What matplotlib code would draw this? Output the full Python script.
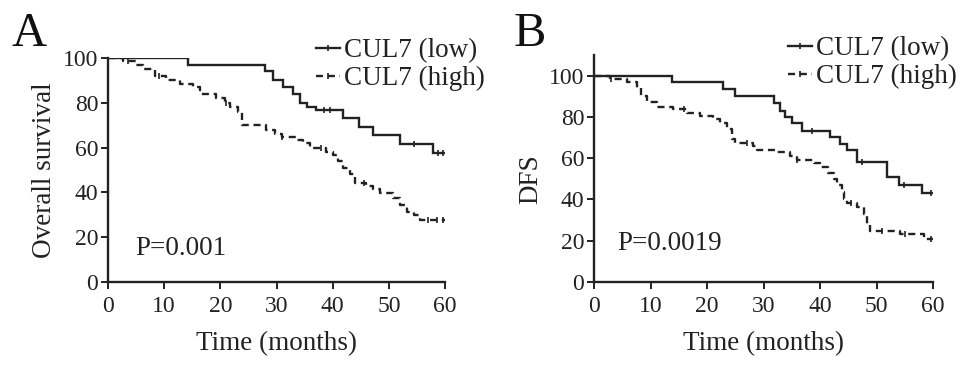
import numpy as np
import matplotlib
matplotlib.use("Agg")
import matplotlib.pyplot as plt
from matplotlib.lines import Line2D

plt.rcParams['font.family'] = ['Liberation Serif', 'DejaVu Serif']

# ---- data ----
a_low_t = [0, 14.3, 27.9, 29.4, 31.2, 33, 34.2, 35.4, 37.1, 41.9, 44.6, 47.2, 52, 57.9, 60]
a_low_s = [100, 97, 94, 90.3, 87, 84, 80, 78, 76.9, 73.1, 69.4, 65.7, 61.6, 57.8, 57.8]
a_low_cens = [38.5, 39.5, 54.5, 58.8, 59.6]

a_high_t = [0, 2.7, 5, 6.2, 8.3, 10.4, 12.8, 15.2, 16.3, 19.3, 20.8, 21.7, 23.2, 23.8, 28.2, 29.7,
            30.9, 33.6, 34.8, 35.9, 38.9, 40.1, 41.0, 41.9, 43.1, 44, 46, 47.2, 48.4, 50.8, 52,
            53.2, 54.4, 55.6, 60]
a_high_s = [100, 98.5, 97, 95, 92, 90, 88.5, 87, 84, 82, 80, 78, 76, 70, 68, 66, 64.7, 63.5, 62,
            59.7, 58.2, 56.7, 54.2, 51, 48, 44.3, 43, 41.5, 39.6, 37.3, 34.3, 31.3, 29.9, 27.6, 27.6]
a_high_cens = [3.5, 9, 21, 31, 38, 45.5, 57, 58.5, 59.6]

b_low_t = [0, 13.8, 22.9, 25, 31.8, 33, 33.8, 35, 36.8, 41.8, 43.6, 44.8, 46.6, 51.9, 53.9, 58.1, 60]
b_low_s = [100, 96.8, 93.5, 90, 86.7, 83, 80, 77, 73.4, 70.2, 67, 64, 58.3, 51, 47, 43, 43]
b_low_cens = [38.5, 47.5, 54.8, 59.6]

b_high_t = [0, 2.8, 5.8, 7.6, 8.4, 9.3, 11.1, 14, 16.4, 18.8, 21.1, 22.3, 23.5, 24.4, 25, 28.2,
            28.8, 32.4, 34.7, 35.9, 38.9, 40, 41.5, 42.4, 43, 43.9, 44.2, 44.8, 46.6, 47.7, 48.3,
            48.9, 54.2, 58.4, 60]
b_high_s = [100, 98.5, 97, 94, 90, 87, 85, 84, 82, 80.5, 79, 77, 74, 69.5, 67.5, 66, 64, 63.2,
            61, 59, 57.5, 55.7, 53, 50, 47, 43.6, 40, 38.4, 36.5, 33, 28, 24.5, 23.5, 21, 21]
b_high_cens = [3, 16, 27, 36, 45.5, 51, 55, 59.6]

legend_labels = ["CUL7 (low)", "CUL7 (high)"]
xticks = [0, 10, 20, 30, 40, 50, 60]
yticks = [0, 20, 40, 60, 80, 100]

fig = plt.figure(figsize=(9.69, 3.71), dpi=100)
W, H = 969, 371

def ax_px(x0, x1, ytop, ybot):
    return fig.add_axes([x0 / W, (H - ybot) / H, (x1 - x0) / W, (ybot - ytop) / H])

axA = ax_px(108, 445, 58, 282)
axB = ax_px(594, 933, 55, 282)

DASH = (0, (3.0, 2.0))
INK = '#222222'

def step_val(t, s, x):
    t = np.asarray(t); s = np.asarray(s)
    i = np.searchsorted(t, x, side='right') - 1
    return s[i]

def draw(ax, lt, ls, lc, ht, hs, hc, ymax, ylabel, ptext, pxy, letter, letter_x, leg_xy):
    ax.step(lt, ls, where='post', color=INK, lw=1.7, solid_joinstyle='miter')
    ax.step(ht, hs, where='post', color=INK, lw=1.7, linestyle=DASH)
    ax.plot(lc, step_val(lt, ls, lc), linestyle='none', marker='|', ms=5, mew=1.2, color=INK)
    ax.plot(hc, step_val(ht, hs, hc), linestyle='none', marker='|', ms=5, mew=1.2, color=INK)
    ax.set_xlim(0, 60)
    ax.set_ylim(0, ymax)
    ax.set_xticks(xticks)
    ax.set_yticks(yticks)
    ax.tick_params(direction='out', length=5, width=1.4, labelsize=17, color=INK,
                   labelcolor=INK)
    ax.tick_params(axis='x', pad=5)
    ax.tick_params(axis='y', pad=2)
    for side in ['top', 'right']:
        ax.spines[side].set_visible(False)
    for side in ['left', 'bottom']:
        ax.spines[side].set_linewidth(1.7)
        ax.spines[side].set_color(INK)
    ax.set_xlabel("Time (months)", fontsize=19.5, color=INK, labelpad=10)
    ax.set_ylabel(ylabel, fontsize=19.5, color=INK, labelpad=4)
    ax.yaxis.label.set_y(50 / ymax)
    ax.text(pxy[0], pxy[1], ptext, fontsize=19.5, color=INK, va='baseline', ha='left')
    handles = [Line2D([0], [0], color=INK, lw=1.7, marker='|', ms=5, mew=1.2),
               Line2D([0], [0], color=INK, lw=1.7, linestyle=DASH, marker='|', ms=5, mew=1.2)]
    ax.legend(handles, legend_labels, loc='upper left',
              bbox_to_anchor=(leg_xy[0] / W, (H - leg_xy[1]) / H), bbox_transform=fig.transFigure,
              frameon=False, fontsize=19.5, handlelength=0.9, handletextpad=0.15,
              labelspacing=0.12, borderpad=0.0, borderaxespad=0.0, labelcolor=INK)
    fig.text(letter_x / W, (H - 46) / H, letter, fontsize=35, color='#111111', va='baseline', ha='left')

draw(axA, a_low_t, a_low_s, a_low_cens, a_high_t, a_high_s, a_high_cens, 100,
     "Overall survival", "P=0.001", (4.8, 12), "A", 12, (316, 38))
draw(axB, b_low_t, b_low_s, b_low_cens, b_high_t, b_high_s, b_high_cens, 110,
     "DFS", "P=0.0019", (4.1, 15.5), "B", 514, (788, 36))

fig.savefig("out.png", dpi=100)
